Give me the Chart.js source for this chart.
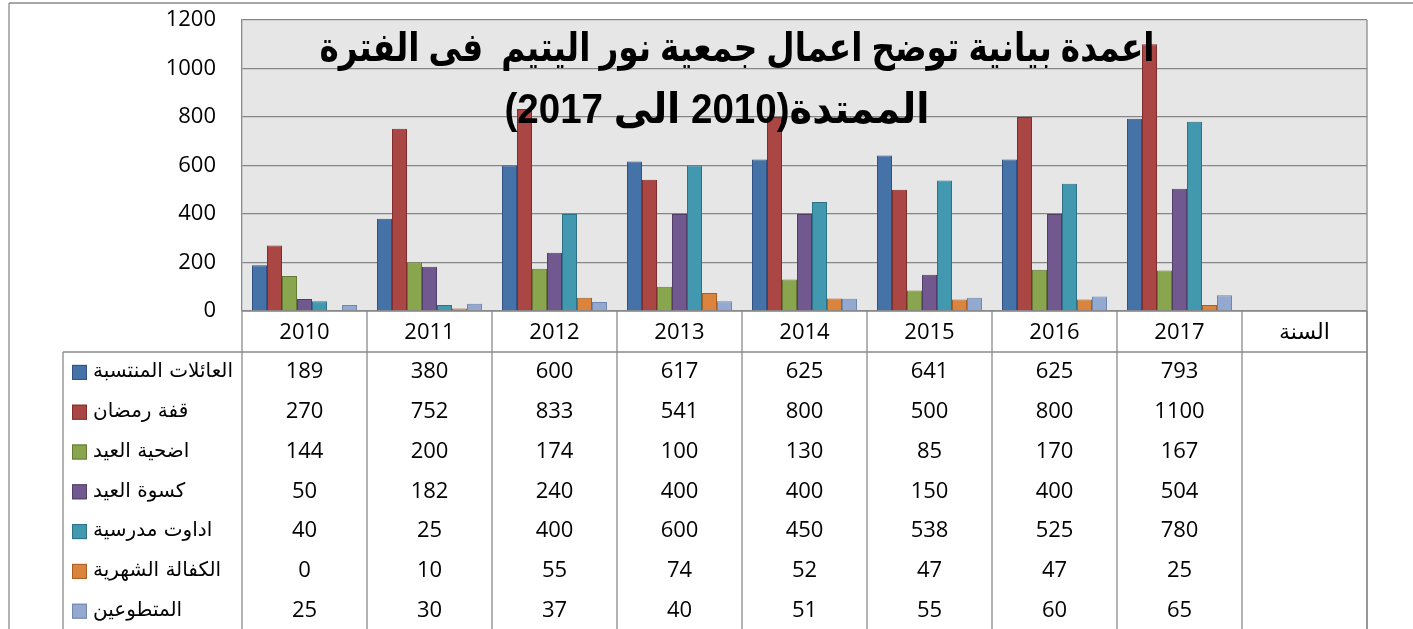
<!DOCTYPE html>
<html><head><meta charset="utf-8">
<script src="https://cdn.jsdelivr.net/npm/chart.js@4/dist/chart.umd.min.js"></script>
<style>html,body{margin:0;padding:0;background:#fff;overflow:hidden}canvas{display:block}</style>
</head><body>
<canvas id="c" width="1413" height="629"></canvas>
<script>
const categories = ['2010','2011','2012','2013','2014','2015','2016','2017','السنة'];
const seriesNames = ['العائلات المنتسبة','قفة رمضان','اضحية العيد','كسوة العيد','اداوت مدرسية','الكفالة الشهرية','المتطوعين'];
const families    = [189,380,600,617,625,641,625,793];
const ramadan     = [270,752,833,541,800,500,800,1100];
const adha        = [144,200,174,100,130,85,170,167];
const clothes     = [50,182,240,400,400,150,400,504];
const schoolTools = [40,25,400,600,450,538,525,780];
const sponsorship = [0,10,55,74,52,47,47,25];
const volunteers  = [25,30,37,40,51,55,60,65];
const yTicks = [0,200,400,600,800,1000,1200];
const titleLines = ['اعمدة بيانية توضح اعمال جمعية نور اليتيم  فى الفترة','الممتدة(2010 الى 2017)'];

const seriesValues = [families, ramadan, adha, clothes, schoolTools, sponsorship, volunteers];
const fills   = ['#4572A7','#AA4643','#89A54E','#71588F','#4198AF','#DB843D','#93A9CF'];
const borders = ['#2F5283','#7F2E2C','#637A36','#513E68','#2D7186','#A85E22','#6F86AE'];

const NUM_FONT = '"Open Sans", "DejaVu Sans", sans-serif';
const TITLE_FONT = '"Liberation Sans", "DejaVu Sans", sans-serif';
const LINE = '#8a8a8a';

const tablePlugin = {
  id: 'tablePlugin',
  beforeDraw(chart) {
    const {ctx, chartArea: a} = chart;
    ctx.save();
    ctx.fillStyle = '#E6E6E6';
    ctx.fillRect(a.left, a.top, a.right - a.left, a.bottom - a.top);
    ctx.restore();
  },
  afterDraw(chart) {
    const {ctx, chartArea: a} = chart;
    const H = chart.height, W = chart.width;
    const x = chart.scales.x;
    const n = categories.length;
    const step = (a.right - a.left) / n;
    const headerBottom = a.bottom + 41;
    const rowH = 39.8;
    ctx.save();
    ctx.strokeStyle = LINE;
    ctx.lineWidth = 1.3;
    const line = (x1, y1, x2, y2) => { ctx.beginPath(); ctx.moveTo(x1, y1); ctx.lineTo(x2, y2); ctx.stroke(); };
    line(a.right, a.top, a.right, a.bottom);
    line(a.left, a.bottom, a.right, a.bottom);
    for (let i = 0; i <= n; i++) {
      const xx = x.getPixelForValue(i) - step / 2;
      line(xx, a.bottom, xx, H);
    }
    line(a.right, a.bottom, a.right, H);
    line(63, headerBottom, a.right, headerBottom);
    line(63, headerBottom, 63, H);
    line(9, 3, W, 3);
    line(9, 3, 9, H);

    ctx.fillStyle = '#000';
    ctx.font = '22px ' + NUM_FONT;
    ctx.textAlign = 'center';
    ctx.textBaseline = 'middle';
    seriesValues.forEach((vals, r) => {
      const cy = headerBottom + rowH * (r + 0.5);
      vals.forEach((v, i) => {
        ctx.fillText(String(v), x.getPixelForValue(i), cy);
      });
    });
    ctx.direction = 'rtl';
    ctx.textAlign = 'left';
    ctx.font = '20px "DejaVu Sans", sans-serif';
    seriesNames.forEach((name, r) => {
      const cy = headerBottom + rowH * (r + 0.5);
      ctx.fillStyle = fills[r];
      ctx.fillRect(72, cy - 7, 15, 15);
      ctx.strokeStyle = borders[r];
      ctx.lineWidth = 1;
      ctx.strokeRect(72.5, cy - 6.5, 14, 14);
      ctx.fillStyle = '#000';
      ctx.fillText(name, 93, cy);
    });
    ctx.textAlign = 'center';
    const drawFitted = (text, cx, cy, maxW, fs) => {
      ctx.font = 'bold ' + fs + 'px ' + TITLE_FONT;
      const w = ctx.measureText(text).width;
      const sx = w > maxW ? maxW / w : 1;
      ctx.save();
      ctx.translate(cx, cy);
      ctx.scale(sx, 1);
      ctx.fillText(text, 0, 0);
      ctx.restore();
    };
    drawFitted(titleLines[0], 737, 50, 835, 40);
    drawFitted(titleLines[1], 717, 111, 425, 42);
    ctx.restore();
  }
};

new Chart(document.getElementById('c'), {
  type: 'bar',
  data: {
    labels: categories,
    datasets: seriesNames.map((name, i) => ({
      label: name,
      data: seriesValues[i],
      backgroundColor: fills[i],
      borderColor: borders[i],
      borderWidth: 1,
      categoryPercentage: 0.84,
      barPercentage: 1.0
    }))
  },
  options: {
    responsive: false,
    animation: false,
    devicePixelRatio: 1,
    layout: { padding: { left: 0, right: 46, top: 20, bottom: 0 } },
    plugins: { legend: { display: false }, title: { display: false }, tooltip: { enabled: false } },
    scales: {
      x: {
        grid: { display: false, drawTicks: false },
        border: { display: false },
        ticks: { color: '#000', font: { family: NUM_FONT, size: 22 }, padding: 9, maxRotation: 0, autoSkip: false },
        afterFit(s) { s.height = 318; }
      },
      y: {
        min: 0, max: 1200,
        afterBuildTicks(s) { s.ticks = yTicks.map(v => ({ value: v })); },
        grid: { color: '#868686', lineWidth: 1.2, drawTicks: false },
        border: { display: true, color: LINE, width: 1.3 },
        ticks: { color: '#000', font: { family: NUM_FONT, size: 22 }, padding: 26, callback: v => String(v) },
        afterFit(s) { s.width = 242; s.paddingTop = 0; s.paddingBottom = 0; }
      }
    }
  },
  plugins: [tablePlugin]
});
</script>
</body></html>
